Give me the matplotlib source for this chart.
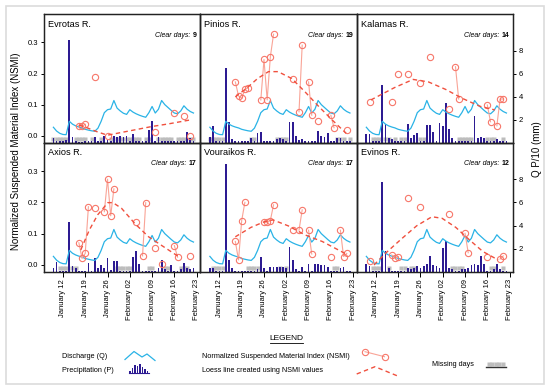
import matplotlib.pyplot as plt
import numpy as np
from matplotlib.patches import Rectangle

plt.rcParams['font.family'] = ['Liberation Sans', 'DejaVu Sans']

# day numbers counted from 1 January (32 = February 1)
days = np.arange(9, 54)
tick_days = [12, 19, 26, 33, 40, 47, 54]
tick_labels = ['January 12', 'January 19', 'January 26', 'February 02',
               'February 09', 'February 16', 'February 23']

# discharge Q/10, same curve in every panel
discharge = [1.33, 1.0, 0.8, 0.7, 0.68, 1.85, 1.6, 1.45, 1.35, 1.27, 1.15, 1.08,
             1.02, 0.98, 1.25, 1.85, 2.6, 2.86, 2.92, 3.66, 3.0, 2.75, 2.55,
             2.45, 2.86, 2.65, 2.5, 2.38, 2.28, 2.2, 2.6, 3.14, 2.57, 2.9, 3.66,
             3.3, 3.05, 2.8, 2.57, 2.5, 2.75, 3.2, 2.9, 2.7, 2.57]

# precipitation P/10 per river (days 9..53)
evrotas_p = [0.4, 0.1, 0.1, 0.1, 0.2, 8.9, 0.45, 0.1, 0.05, 0.05, 0.1, 0.1, 0.1,
             0.5, 0.1, 0.1, 0.6, 0.25, 0.1, 0.6, 0.5, 0.6, 0.5, 0.55, 0.1, 0.75,
             0.1, 0.1, 0.1, 0.1, 1.05, 1.9, 0.1, 0.45, 0.1, 0.1, 0.1, 0.1, 0.1,
             0.1, 0.1, 0.1, 0.9, 0.4, 0.1]
pinios_p = [0.5, 1.45, 0.1, 0.1, 0.1, 6.5, 1.75, 0.3, 0.1, 0.1, 0.1, 0.1, 0.1,
            0.4, 0.1, 0.87, 0.95, 0.1, 0.1, 0.1, 0.1, 0.3, 0.4, 0.3, 0.1, 1.82,
            1.82, 0.58, 0.2, 0.3, 0.1, 0.1, 0.1, 0.1, 1.0, 0.58, 0.5, 0.87, 0.1,
            0.1, 0.4, 0.4, 0.1, 0.1, 0.1]
kalamas_p = [0.75, 0.7, 0.1, 0.1, 0.1, 5.05, 1.6, 0.35, 0.3, 0.15, 0.1, 0.1, 0.1,
             1.65, 0.35, 0.65, 0.8, 0.1, 0.1, 1.5, 1.55, 0.9, 0.1, 1.7, 1.4, 3.4,
             1.15, 0.35, 0.1, 0.1, 0.1, 0.1, 0.1, 0.1, 2.35, 0.35, 0.5, 0.35, 0.1,
             0.1, 0.15, 0.3, 0.1, 0.1, 0.1]
axios_p = [0.35, 0.8, 0.1, 0.1, 0.1, 4.35, 0.5, 0.3, 0.1, 0.1, 0.1, 0.72, 0.1,
           1.16, 0.3, 0.55, 0.3, 1.16, 0.15, 0.96, 0.96, 0.1, 0.1, 0.1, 0.1, 1.3,
           1.8, 0.64, 0.1, 0.1, 0.1, 0.1, 0.1, 0.3, 1.0, 0.2, 0.1, 0.58, 0.1,
           0.1, 0.2, 0.72, 0.35, 0.25, 0.3]
vouraikos_p = [0.3, 0.35, 0.1, 0.1, 0.1, 9.3, 1.05, 0.35, 0.1, 0.1, 0.1, 0.1, 0.1,
               0.1, 0.1, 0.2, 1.3, 0.3, 0.1, 0.45, 0.45, 0.4, 0.45, 0.4, 0.3, 2.15,
               1.05, 0.25, 0.1, 0.4, 0.1, 0.65, 0.1, 0.65, 0.65, 0.6, 0.6, 0.45,
               0.1, 0.1, 0.1, 0.35, 0.45, 0.1, 0.1]
evinos_p = [0.7, 0.5, 0.1, 0.1, 0.1, 7.75, 1.8, 0.3, 0.1, 0.1, 0.1, 0.1, 0.1, 0.3,
            0.2, 0.3, 0.5, 0.3, 0.5, 0.65, 1.35, 0.6, 0.5, 0.3, 2.05, 2.67, 0.3,
            0.2, 0.1, 0.1, 0.2, 0.2, 0.3, 0.55, 0.65, 0.55, 1.35, 0.65, 0.1, 0.1,
            0.2, 0.65, 0.2, 0.1, 0.1]

# NSMI observations (clear days)
evrotas_nd = [17, 18, 19, 22, 26, 41, 47, 50, 52]
evrotas_nv = [0.033, 0.031, 0.037, 0.19, 0.0, 0.011, 0.074, 0.064, 0.0]
pinios_nd = [17, 18, 19, 20, 21, 25, 26, 27, 28, 29, 35, 37, 38, 40, 41, 43, 47, 48, 52]
pinios_nv = [0.173, 0.128, 0.12, 0.149, 0.154, 0.115, 0.245, 0.115, 0.254, 0.326,
             0.182, 0.077, 0.291, 0.173, 0.066, 0.048, 0.066, 0.026, 0.018]
kalamas_nd = [10, 17, 19, 22, 26, 29, 35, 37, 38, 47, 48, 50, 51, 52]
kalamas_nv = [0.109, 0.109, 0.197, 0.2, 0.168, 0.254, 0.085, 0.222, 0.118, 0.099,
              0.045, 0.032, 0.118, 0.118]
axios_nd = [17, 18, 19, 20, 22, 25, 26, 27, 28, 35, 37, 38, 41, 43, 47, 48, 52]
axios_nv = [0.071, 0.021, 0.037, 0.186, 0.183, 0.17, 0.274, 0.157, 0.243, 0.138,
            0.029, 0.199, 0.055, 0.003, 0.062, 0.025, 0.029]
vouraikos_nd = [17, 18, 19, 20, 26, 27, 28, 29, 35, 37, 38, 40, 41, 47, 50, 51, 52]
vouraikos_nv = [0.075, 0.016, 0.142, 0.2, 0.136, 0.136, 0.142, 0.192, 0.111, 0.111,
                0.176, 0.111, 0.035, 0.027, 0.111, 0.027, 0.037]
evinos_nd = [10, 17, 18, 19, 22, 26, 35, 40, 41, 47, 51, 52]
evinos_nv = [0.014, 0.032, 0.023, 0.027, 0.213, 0.184, 0.163, 0.101, 0.039, 0.025,
             0.019, 0.029]

# loess lines
evrotas_ld = [17, 20, 23, 26, 30, 35, 40, 45, 52]
evrotas_lv = [0.035, 0.024, 0.012, 0.002, 0.01, 0.02, 0.03, 0.038, 0.051]
pinios_ld = [17, 20.8, 24, 27.4, 30.4, 34.7, 38.9, 43.3, 47.5, 51.8]
pinios_lv = [0.125, 0.155, 0.184, 0.206, 0.206, 0.184, 0.141, 0.093, 0.05, 0.008]
kalamas_ld = [10.4, 17.9, 23.7, 28.5, 33.9, 39.2, 44.6, 49.4]
kalamas_lv = [0.115, 0.155, 0.181, 0.173, 0.149, 0.12, 0.095, 0.083]
axios_ld = [17.6, 20.3, 22.9, 26.1, 27.7, 30.4, 34.7, 38.9, 43.2, 48.6]
axios_lv = [0.048, 0.112, 0.16, 0.199, 0.199, 0.181, 0.131, 0.09, 0.061, 0.025]
vouraikos_ld = [17, 21.9, 26.1, 28.8, 33.6, 38.9, 44.3, 51.8]
vouraikos_lv = [0.09, 0.12, 0.138, 0.144, 0.125, 0.096, 0.075, 0.035]
evinos_ld = [11.4, 15.2, 20, 24.8, 29.6, 32.8, 37.1, 41.4, 45.6, 50.4]
evinos_lv = [0.0, 0.039, 0.083, 0.125, 0.154, 0.149, 0.12, 0.08, 0.043, 0.016]

# missing days
evrotas_miss = [9, 10, 11, 12, 13, 16, 17, 18, 19, 21, 24, 27, 29, 30, 31, 32, 33,
                34, 35, 36, 38, 39, 42, 43, 44, 45, 46, 48, 49, 50, 52, 53]
pinios_miss = [9, 10, 11, 12, 13, 22, 23, 30, 31, 32, 33, 49, 50, 51, 53]
kalamas_miss = [11, 12, 13, 15, 16, 18, 20, 21, 26, 27, 38, 39, 40, 41, 42, 47, 48, 49, 52]
axios_miss = [11, 12, 13, 15, 16, 29, 30, 31, 32, 33, 39, 40, 44, 45, 49, 50, 51]
vouraikos_miss = [10, 11, 12, 13, 21, 22, 23, 24, 31, 33, 48, 49]
evinos_miss = [11, 12, 13, 16, 20, 21, 23, 24, 36, 37, 38, 39, 48, 49, 52]

panels = [
    ('Evrotas R.', evrotas_p, evrotas_nd, evrotas_nv, evrotas_ld, evrotas_lv, evrotas_miss),
    ('Pinios R.', pinios_p, pinios_nd, pinios_nv, pinios_ld, pinios_lv, pinios_miss),
    ('Kalamas R.', kalamas_p, kalamas_nd, kalamas_nv, kalamas_ld, kalamas_lv, kalamas_miss),
    ('Axios R.', axios_p, axios_nd, axios_nv, axios_ld, axios_lv, axios_miss),
    ('Vouraikos R.', vouraikos_p, vouraikos_nd, vouraikos_nv, vouraikos_ld, vouraikos_lv, vouraikos_miss),
    ('Evinos R.', evinos_p, evinos_nd, evinos_nv, evinos_ld, evinos_lv, evinos_miss),
]

cyan = '#2AB3E6'
navy = '#2D1B92'
salmon = '#F7776A'
salmon_light = '#F9A497'
loess_red = '#F0503E'
gray = '#BDBDBD'

fig = plt.figure(figsize=(5.5, 3.9), dpi=100)

for i, (name, p, nd, nv, ld, lv, miss) in enumerate(panels):
    row, col = divmod(i, 3)
    x0 = 0.08 + col * 0.2845
    if row == 0:
        rect = [x0, 0.6346, 0.2845, 0.3295]
    else:
        rect = [x0, 0.3033, 0.2845, 0.3313]
    ax = fig.add_axes(rect)
    ax2 = ax.twinx()
    ax.set_zorder(ax2.get_zorder() + 1)
    ax.patch.set_visible(False)

    # discharge / precipitation on the right scale
    ax2.plot(miss, [0.33] * len(miss), 's', ms=3, color=gray, mec='none', zorder=1)
    ax2.bar(days, p, width=0.55, color=navy, zorder=2)
    ax2.plot(days, discharge, color=cyan, lw=0.9, zorder=3)
    ax2.set_ylim(0, 11.2)

    # NSMI on the left scale, joined only on consecutive days
    daily = np.full(len(days), np.nan)
    daily[np.array(nd) - days[0]] = nv
    ax.plot(days, daily, '-', color=salmon_light, lw=0.8)
    ax.plot(nd, nv, 'o', mfc='none', mec=salmon, ms=4.5, mew=0.8)
    ax.plot(ld, lv, '--', color=loess_red, lw=1.0, dashes=(3.2, 2.4))
    ax.set_ylim(-0.0215, 0.391)
    ax.set_xlim(6.05, 55.2)

    ax.text(0.025, 0.955, name, transform=ax.transAxes, ha='left', va='top', fontsize=6.6)
    n_txt = str(len(nd))
    ax.text(0.975, 0.835, n_txt, transform=ax.transAxes, ha='right', va='center',
            fontsize=5, fontweight='bold')
    ax.annotate('Clear days:', xy=(0.975, 0.835), xycoords='axes fraction',
                xytext=(-2.8 * len(n_txt) - 1.6, 0), textcoords='offset points',
                ha='right', va='center', fontsize=5, style='italic')

    if col == 0:
        ax.set_yticks([0, 0.1, 0.2, 0.3], ['0.0', '0.1', '0.2', '0.3'])
    else:
        ax.set_yticks([])
    if col == 2:
        ax2.set_yticks([2, 4, 6, 8], ['2', '4', '6', '8'])
    else:
        ax2.set_yticks([])
    if row == 1:
        ax.set_xticks(tick_days, tick_labels, rotation=90)
    else:
        ax.set_xticks([])

    for a in (ax, ax2):
        a.tick_params(direction='out', length=2.5, width=0.7, labelsize=5.5, pad=1.5)
        for s in a.spines.values():
            s.set_linewidth(0.9)
            s.set_color('#222222')
    ax.tick_params(axis='x', length=3.5, pad=2)

fig.text(0.029, 0.612, 'Normalized Suspended Material Index (NSMI)', rotation=90,
         ha='center', va='center', fontsize=7)
fig.text(0.976, 0.617, 'Q P/10 (mm)', rotation=90, ha='center', va='center', fontsize=7)

# legend drawn in pixel coordinates
lax = fig.add_axes([0, 0, 1, 1], zorder=-1)
lax.set_xlim(0, 550)
lax.set_ylim(390, 0)
lax.axis('off')
lax.add_patch(Rectangle((6, 6), 538, 378, fill=False, ec='#DCDCDC', lw=1.2))

q_icon_x = [125, 134, 142, 147, 155]
q_icon_y = [359.5, 351.5, 357, 354, 360.5]
p_icon_x = [130, 132.5, 135, 137.5, 140, 142.5, 145, 147.5]
p_icon_h = [2, 5, 8, 7, 9, 6, 4, 2]
nsmi_icon_x = [365, 384.5]
nsmi_icon_y = [351.7, 356.7]
loess_icon_x = [356.7, 375, 397.7]
loess_icon_y = [374, 366.7, 376]
miss_icon_x = [488.5, 492, 495.5, 499, 502.5]

lax.text(286.5, 338, 'LEGEND', ha='center', va='center', fontsize=6)
lax.plot([270, 303], [342.8, 342.8], color='black', lw=0.6)
lax.text(62, 357, 'Discharge (Q)', ha='left', va='center', fontsize=5.2)
lax.text(62, 370, 'Precipitation (P)', ha='left', va='center', fontsize=5.2)
lax.text(202, 357, 'Normalized Suspended Material Index (NSMI)', ha='left', va='center', fontsize=5.2)
lax.text(202, 370, 'Loess line created using NSMI values', ha='left', va='center', fontsize=5.2)
lax.text(432, 365, 'Missing days', ha='left', va='center', fontsize=5.2)

lax.plot(q_icon_x, q_icon_y, color=cyan, lw=0.9)
lax.bar(p_icon_x, [-h for h in p_icon_h], bottom=373, width=1.3, color=navy)
lax.plot([129, 149], [373, 373], color=navy, lw=0.8)
lax.plot(nsmi_icon_x, nsmi_icon_y, '-', color=salmon_light, lw=0.8)
lax.plot(nsmi_icon_x, nsmi_icon_y, 'o', mfc='none', mec=salmon, ms=4.5, mew=0.8)
lax.plot(loess_icon_x, loess_icon_y, '--', color=loess_red, lw=1.0, dashes=(3.2, 2.4))
lax.plot(miss_icon_x, [363.5] * len(miss_icon_x), 's', ms=3, color=gray, mec='none')
lax.plot([486, 506], [366.5, 366.5], color='#333333', lw=1.0)

fig.savefig('out.png', dpi=100)
